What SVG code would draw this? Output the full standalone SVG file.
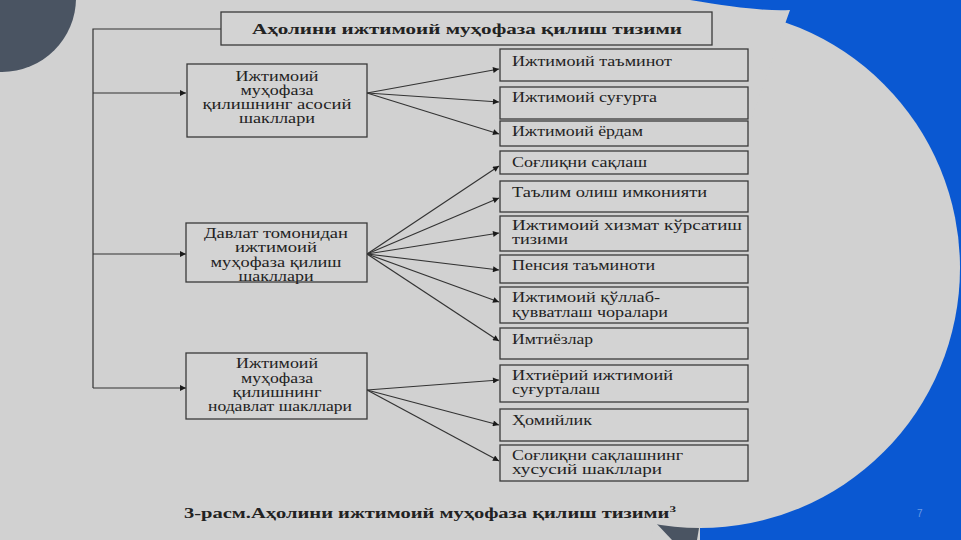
<svg xmlns="http://www.w3.org/2000/svg" width="961" height="540" viewBox="0 0 961 540">
<defs>
<marker id="ah" viewBox="0 0 10 10" refX="10" refY="5" markerWidth="8" markerHeight="6" markerUnits="userSpaceOnUse" orient="auto">
<path d="M0,0 L10,5 L0,10 z" fill="#1a1a1a"/>
</marker>
<style>
.bx{fill:#d3d3d3;stroke:#3a3a3a;stroke-width:1.3}
.t{font-family:"Liberation Serif","DejaVu Serif",serif;font-size:14px;fill:#222}
.c{text-anchor:middle}
.ln{fill:none;stroke:#333;stroke-width:1.2}
.ar{fill:none;stroke:#333;stroke-width:1.2;marker-end:url(#ah)}
.b{font-weight:bold}
</style>
</defs>
<rect x="0" y="0" width="961" height="540" fill="#d1d1d1"/>
<path d="M690,0 L961,0 L961,540 L700,540 L700,522 Z" fill="#0a58d2"/>
<path d="M655,522 L700,522 L697,540 L672,540 Z" fill="#4a5462"/>
<circle cx="700" cy="268" r="260" fill="#d1d1d1"/>
<path d="M0,0 L690,0 Q760,12 790,10 L700,262 L700,522 L655,522 L650,540 L0,540 Z" fill="#d1d1d1"/>
<circle cx="2" cy="-2" r="74" fill="#4a5462"/>
<text x="917" y="517" font-family="Liberation Sans,sans-serif" font-size="10" fill="#6a9be6">7</text>

<g id="connectors">
<path class="ln" d="M221,29 H93 V388"/>
<path class="ar" d="M93,93 H186"/>
<path class="ar" d="M93,254 H186"/>
<path class="ar" d="M93,388 H186"/>
<path class="ar" d="M367,93 L499,69"/>
<path class="ar" d="M367,93 L499,102"/>
<path class="ar" d="M367,93 L499,134"/>
<path class="ar" d="M367,254 L499,166"/>
<path class="ar" d="M367,254 L499,198"/>
<path class="ar" d="M367,254 L499,233"/>
<path class="ar" d="M367,254 L499,270"/>
<path class="ar" d="M367,254 L499,302"/>
<path class="ar" d="M367,254 L499,341"/>
<path class="ar" d="M367,390 L499,380"/>
<path class="ar" d="M367,390 L499,425"/>
<path class="ar" d="M367,390 L499,461"/>
</g>

<g id="title">
<rect class="bx" x="221" y="12" width="491" height="33"/>
<text class="t b c" x="467" y="34" font-size="17" textLength="430" lengthAdjust="spacingAndGlyphs">Аҳолини ижтимоий муҳофаза қилиш тизими</text>
</g>

<g id="n1">
<rect class="bx" x="187" y="64" width="180" height="73"/>
<text class="t c" x="277" y="81" textLength="83" lengthAdjust="spacingAndGlyphs">Ижтимоий</text>
<text class="t c" x="277" y="95" textLength="73" lengthAdjust="spacingAndGlyphs">муҳофаза</text>
<text class="t c" x="277" y="109" textLength="149" lengthAdjust="spacingAndGlyphs">қилишнинг асосий</text>
<text class="t c" x="277" y="123" textLength="76" lengthAdjust="spacingAndGlyphs">шакллари</text>
</g>

<g id="n2">
<rect class="bx" x="186" y="223" width="181" height="59"/>
<text class="t c" x="276" y="238" textLength="144" lengthAdjust="spacingAndGlyphs">Давлат томонидан</text>
<text class="t c" x="276" y="252" textLength="82" lengthAdjust="spacingAndGlyphs">ижтимоий</text>
<text class="t c" x="276" y="267" textLength="131" lengthAdjust="spacingAndGlyphs">муҳофаза қилиш</text>
<text class="t c" x="276" y="281" textLength="75" lengthAdjust="spacingAndGlyphs">шакллари</text>
</g>

<g id="n3">
<rect class="bx" x="186" y="353" width="181" height="66"/>
<text class="t c" x="277" y="368" textLength="82" lengthAdjust="spacingAndGlyphs">Ижтимоий</text>
<text class="t c" x="277" y="383" textLength="72" lengthAdjust="spacingAndGlyphs">муҳофаза</text>
<text class="t c" x="277" y="397" textLength="89" lengthAdjust="spacingAndGlyphs">қилишнинг</text>
<text class="t c" x="280" y="411" textLength="144" lengthAdjust="spacingAndGlyphs">нодавлат шакллари</text>
</g>

<g id="r1"><rect class="bx" x="500" y="49" width="248" height="32"/>
<text class="t" x="512" y="66" textLength="160" lengthAdjust="spacingAndGlyphs">Ижтимоий таъминот</text></g>
<g id="r2"><rect class="bx" x="500" y="87" width="248" height="32"/>
<text class="t" x="512" y="102" textLength="145" lengthAdjust="spacingAndGlyphs">Ижтимоий суғурта</text></g>
<g id="r3"><rect class="bx" x="500" y="121" width="248" height="25"/>
<text class="t" x="512" y="136" textLength="131" lengthAdjust="spacingAndGlyphs">Ижтимоий ёрдам</text></g>
<g id="r4"><rect class="bx" x="500" y="151" width="248" height="23"/>
<text class="t" x="512" y="167" textLength="135" lengthAdjust="spacingAndGlyphs">Соғлиқни сақлаш</text></g>
<g id="r5"><rect class="bx" x="500" y="181" width="248" height="31"/>
<text class="t" x="512" y="197" textLength="195" lengthAdjust="spacingAndGlyphs">Таълим олиш имконияти</text></g>
<g id="r6"><rect class="bx" x="500" y="216" width="248" height="35"/>
<text class="t" x="512" y="230" textLength="230" lengthAdjust="spacingAndGlyphs">Ижтимоий хизмат кўрсатиш</text>
<text class="t" x="512" y="244" textLength="56" lengthAdjust="spacingAndGlyphs">тизими</text></g>
<g id="r7"><rect class="bx" x="500" y="255" width="248" height="28"/>
<text class="t" x="512" y="270" textLength="143" lengthAdjust="spacingAndGlyphs">Пенсия таъминоти</text></g>
<g id="r8"><rect class="bx" x="500" y="287" width="248" height="36"/>
<text class="t" x="512" y="302" textLength="148" lengthAdjust="spacingAndGlyphs">Ижтимоий қўллаб-</text>
<text class="t" x="512" y="317" textLength="156" lengthAdjust="spacingAndGlyphs">қувватлаш чоралари</text></g>
<g id="r9"><rect class="bx" x="500" y="328" width="248" height="31"/>
<text class="t" x="512" y="344" textLength="81" lengthAdjust="spacingAndGlyphs">Имтиёзлар</text></g>
<g id="r10"><rect class="bx" x="500" y="365" width="248" height="37"/>
<text class="t" x="512" y="380" textLength="161" lengthAdjust="spacingAndGlyphs">Ихтиёрий ижтимоий</text>
<text class="t" x="512" y="394" textLength="88" lengthAdjust="spacingAndGlyphs">суғурталаш</text></g>
<g id="r11"><rect class="bx" x="500" y="409" width="248" height="32"/>
<text class="t" x="512" y="425" textLength="80" lengthAdjust="spacingAndGlyphs">Ҳомийлик</text></g>
<g id="r12"><rect class="bx" x="500" y="445" width="248" height="36"/>
<text class="t" x="512" y="460" textLength="171" lengthAdjust="spacingAndGlyphs">Соғлиқни сақлашнинг</text>
<text class="t" x="512" y="474" textLength="150" lengthAdjust="spacingAndGlyphs">хусусий шакллари</text></g>

<text class="t b" x="184" y="518" font-size="15" textLength="492" lengthAdjust="spacingAndGlyphs">3-расм.Аҳолини ижтимоий муҳофаза қилиш тизими<tspan font-size="9" dy="-6">3</tspan></text>
</svg>
